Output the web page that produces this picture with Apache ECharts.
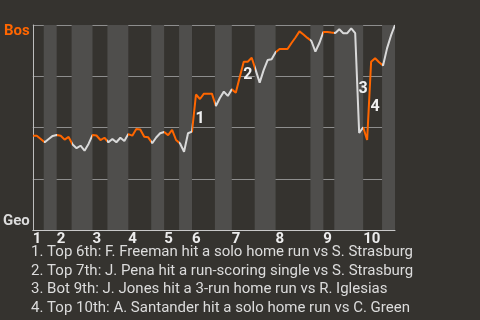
<!DOCTYPE html>
<html>
<head>
<meta charset="utf-8">
<script src="https://cdn.jsdelivr.net/npm/echarts@6/dist/echarts.min.js"></script>
<style>html,body{margin:0;padding:0;background:#35332f;}#c{width:480px;height:320px;}</style>
</head>
<body>
<div id="c"></div>
<script>
// Inning tick labels (placed at the start of each top half)
const innings = ['1','2','3','4','5','6','7','8','9','10'];
// Start of each half-inning along the game (plate-appearance index); even = top, odd = bottom
const halfStarts = [0, 2.75, 6, 9.75, 15, 18.75, 24, 29.75, 33, 36.75, 40, 45.75, 50, 55.75, 61, 69.75, 73, 75.75, 83, 87.75];
const gameEnd = 91;
// Bos win probability after each plate appearance
const winProb = [
  0.460,0.460,0.444,0.428,0.444,0.459,0.463,0.460,0.441,0.454,
  0.417,0.399,0.411,0.387,0.420,0.463,0.461,0.439,0.450,0.428,
  0.444,0.428,0.450,0.434,0.468,0.460,0.493,0.490,0.455,0.452,
  0.423,0.451,0.472,0.478,0.463,0.488,0.439,0.422,0.382,0.472,
  0.480,0.661,0.639,0.665,0.665,0.665,0.605,0.644,0.675,0.654,
  0.686,0.670,0.746,0.821,0.821,0.840,0.780,0.719,0.780,0.829,
  0.833,0.867,0.883,0.883,0.883,0.912,0.939,0.969,0.954,0.937,
  0.922,0.870,0.912,0.966,0.966,0.963,0.961,0.979,0.960,0.960,
  0.984,0.960,0.473,0.501,0.439,0.821,0.838,0.818,0.802,0.886,
  0.949,1.000
];
// Key events: index of the plate appearance that ends each big swing
const eventIdx = [41, 53, 82, 85];
const eventTexts = [
  'Top 6th: F. Freeman hit a solo home run vs S. Strasburg',
  'Top 7th: J. Pena hit a run-scoring single vs S. Strasburg',
  'Bot 9th: J. Jones hit a 3-run home run vs R. Iglesias',
  'Top 10th: A. Santander hit a solo home run vs C. Green'
];
const teamTop = 'Bos';
const teamBottom = 'Geo';

const ORANGE = '#ff6600';
const WHITE = '#d9d9d9';
const BAND = '#4f4e4c';

const halfEnds = halfStarts.slice(1).concat([gameEnd]);
const bands = [];
const pieces = [];
halfStarts.forEach((s, i) => {
  const e = halfEnds[i];
  if (i % 2 === 1) bands.push([{xAxis: s}, {xAxis: e}]);
  const p = {gte: s, color: i % 2 === 0 ? ORANGE : WHITE};
  if (i === halfStarts.length - 1) p.lte = e; else p.lt = e;
  pieces.push(p);
});
const topStarts = halfStarts.filter((s, i) => i % 2 === 0);

const lineData = winProb.map((v, i) => [i, v]);
const marks = eventIdx.map((k, i) => ({
  coord: [k - 0.5, (winProb[k - 1] + winProb[k]) / 2],
  value: i + 1
}));

const chart = echarts.init(document.getElementById('c'), null, {renderer: 'canvas'});
chart.setOption({
  backgroundColor: '#35332f',
  animation: false,
  textStyle: {fontFamily: 'Roboto'},
  title: {
    text: eventTexts.map((t, i) => (i + 1) + '. ' + t).join('\n'),
    left: 31, top: 243, padding: 0,
    textStyle: {fontSize: 15, fontWeight: 'normal', color: '#dcdcdc', lineHeight: 18.5, fontFamily: 'Roboto'}
  },
  grid: {left: 31, right: 85, top: 25, bottom: 90},
  xAxis: {
    type: 'value', min: 0, max: gameEnd, z: 1,
    splitLine: {show: false},
    axisTick: {show: false},
    axisLine: {show: true, lineStyle: {color: '#c8c8c8', width: 1}},
    axisLabel: {
      customValues: topStarts,
      formatter: v => innings[topStarts.indexOf(v)] || '',
      align: 'left', margin: 2,
      color: '#ececec', fontWeight: 'bold', fontSize: 15, fontFamily: 'Roboto'
    }
  },
  yAxis: {
    type: 'value', min: 0, max: 1, interval: 0.25, z: 1,
    axisLine: {show: true, lineStyle: {color: '#bdbdbd', width: 1}},
    axisTick: {show: false},
    splitLine: {show: true, lineStyle: {color: '#8e8e8e', width: 1}},
    axisLabel: {
      margin: 3, showMinLabel: true, showMaxLabel: true,
      formatter: v => v === 1 ? '{bos|' + teamTop + '}' : (v === 0 ? '{geo|' + teamBottom + '}' : ''),
      rich: {
        bos: {color: ORANGE, fontWeight: 'bold', fontSize: 15, fontFamily: 'Roboto', padding: [12, 0, 0, 0]},
        geo: {color: '#dcdcdc', fontWeight: 'bold', fontSize: 15, fontFamily: 'Roboto', padding: [0, 0, 17, 0]}
      }
    }
  },
  visualMap: {
    type: 'piecewise', show: false, dimension: 0, seriesIndex: 1, pieces: pieces
  },
  series: [
    {
      type: 'line', data: [], z: 0, silent: true,
      markArea: {silent: true, itemStyle: {color: BAND}, data: bands}
    },
    {
      type: 'line', data: lineData, z: 2, symbol: 'none', smooth: false,
      lineStyle: {width: 2},
      markPoint: {
        symbol: 'circle', symbolSize: 0, silent: true,
        label: {
          show: true, position: 'inside', offset: [6, 6], formatter: '{c}',
          color: '#f0f0f0', fontWeight: 'bold', fontSize: 16, fontFamily: 'Roboto'
        },
        data: marks
      }
    }
  ]
});
</script>
</body>
</html>
